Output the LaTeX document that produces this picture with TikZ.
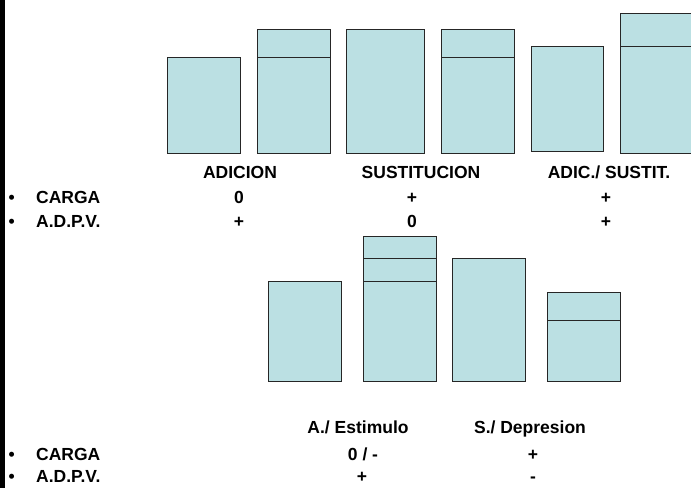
\documentclass[tikz,border=0pt]{standalone}
\usepackage{fontspec}
\setmainfont{Liberation Sans}
\usetikzlibrary{positioning}
\definecolor{barfill}{RGB}{187,224,227}

\begin{document}
\begin{tikzpicture}[x=1pt,y=-1pt,
	bar/.style={draw=black!85, fill=barfill, line width=0.9pt},
	cut/.style={draw=black!85, line width=0.9pt},
	txt/.style={inner sep=0pt, anchor=base, font=\fontsize{17.5}{20}\bfseries\selectfont},
	rowlbl/.style={txt, anchor=base west}]
	\useasboundingbox (0,0) rectangle (691,488);
	\fill[black] (0,0) rectangle (4.5,488);

	% upper row of bars
	\draw[bar] (167,57) rectangle (240,153);
	\draw[bar] (257,29.5) rectangle (330,153);
	\draw[cut] (257,57) -- (330,57);
	\draw[bar] (346,29.5) rectangle (424,153);
	\draw[bar] (441,29.5) rectangle (514,153);
	\draw[cut] (441,57) -- (514,57);
	\draw[bar] (531,46) rectangle (603,151);
	\draw[bar] (620,13) rectangle (700,153);
	\draw[cut] (620,46) -- (700,46);

	\node[txt] (hAdd) at (240,178) {ADICION};
	\node[txt] (hSub) at (421,178) {SUSTITUCION};
	\node[txt] (hAS) at (609,178) {ADIC./ SUSTIT.};

	\node[rowlbl] (b1) at (8.5,203) {•};
	\node[rowlbl] (carga1) at (36,203) {CARGA};
	\node[rowlbl] (b2) at (8.5,227) {•};
	\node[rowlbl] (adpv1) at (36,227) {A.D.P.V.};

	\node[txt] (c1a) at (239,203) {0};
	\node[txt] (c1b) at (412,203) {+};
	\node[txt] (c1c) at (606,203) {+};
	\node[txt] (a1a) at (239,227) {+};
	\node[txt] (a1b) at (412,227) {0};
	\node[txt] (a1c) at (606,227) {+};

	% lower row of bars
	\draw[bar] (268,281) rectangle (341,381);
	\draw[bar] (363,236) rectangle (436,381);
	\draw[cut] (363,258) -- (436,258);
	\draw[cut] (363,281) -- (436,281);
	\draw[bar] (452,258) rectangle (525,381);
	\draw[bar] (547,292) rectangle (620,381);
	\draw[cut] (547,320) -- (620,320);

	\node[txt] (hStim) at (358,433) {A./ Estimulo};
	\node[txt] (hDep) at (530,433) {S./ Depresion};

	\node[rowlbl] (b3) at (8.5,460) {•};
	\node[rowlbl] (carga2) at (36,460) {CARGA};
	\node[rowlbl] (b4) at (8.5,482) {•};
	\node[rowlbl] (adpv2) at (36,482) {A.D.P.V.};

	\node[txt] (c2a) at (363,460) {0 / -};
	\node[txt] (c2b) at (533,460) {+};
	\node[txt] (a2a) at (362,482) {+};
	\node[txt] (a2b) at (533,482) {-};
\end{tikzpicture}
\end{document}
